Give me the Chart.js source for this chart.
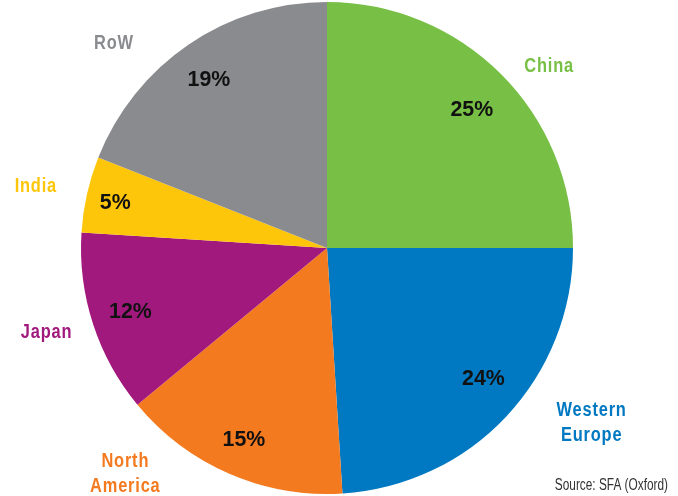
<!DOCTYPE html>
<html>
<head>
<meta charset="utf-8">
<script src="https://cdn.jsdelivr.net/npm/chart.js@4"></script>
<style>
  html, body { margin: 0; padding: 0; background: #fff; }
  #wrap { position: relative; width: 678px; height: 496px; }
</style>
</head>
<body>
<div id="wrap"><canvas id="pieChart" width="678" height="496"></canvas></div>
<script>
// Data
const regions = ['China', 'Western Europe', 'North America', 'Japan', 'India', 'RoW'];
const shares = [25, 24, 15, 12, 5, 19];
const sliceColors = ['#77bf45', '#0079c2', '#f47a20', '#a2197e', '#fec60b', '#8a8b8e'];
const labelLines = [['China'], ['Western', 'Europe'], ['North', 'America'], ['Japan'], ['India'], ['RoW']];

// label placement: [angle shift in degrees, distance as share of radius]
const outerPlace = [[5.8, 1.165], [-9.7, 1.29], [18.4, 1.23], [1.3, 1.19], [-0.6, 1.21], [-12, 1.2]];
const innerPlace = [[1.4, 0.813], [-3.2, 0.83], [0, 0.85], [0, 0.84], [-0.6, 0.88], [-0.9, 0.835]];

// draw text squeezed horizontally to look like a condensed face
function narrowText(ctx, text, x, y, squeeze) {
    ctx.save();
    ctx.translate(x, y);
    ctx.scale(squeeze, 1);
    ctx.fillText(text, 0, 0);
    ctx.restore();
}

const labelPlugin = {
    id: 'sliceLabels',
    afterDraw(chart) {
        const ctx = chart.ctx;
        const meta = chart.getDatasetMeta(0);
        ctx.save();
        ctx.textAlign = 'center';
        ctx.textBaseline = 'middle';
        meta.data.forEach((arc, i) => {
            const p = arc.getProps(['x', 'y', 'startAngle', 'endAngle', 'outerRadius'], true);
            const mid = (p.startAngle + p.endAngle) / 2;

            // percentage inside the slice
            const ai = mid + innerPlace[i][0] * Math.PI / 180;
            const ri = p.outerRadius * innerPlace[i][1];
            ctx.font = 'bold 22px "Liberation Sans", Arial, sans-serif';
            ctx.fillStyle = '#111';
            ctx.letterSpacing = '0px';
            narrowText(ctx, shares[i] + '%', p.x + Math.cos(ai) * ri, p.y + Math.sin(ai) * ri, 0.97);

            // region name outside
            const a = mid + outerPlace[i][0] * Math.PI / 180;
            const ro = p.outerRadius * outerPlace[i][1];
            const cx = p.x + Math.cos(a) * ro;
            const cy = p.y + Math.sin(a) * ro;
            const lines = labelLines[i];
            ctx.font = 'bold 20px "Liberation Sans", Arial, sans-serif';
            ctx.letterSpacing = '1px';
            ctx.fillStyle = sliceColors[i];
            lines.forEach((t, k) => {
                narrowText(ctx, t, cx, cy + (k - (lines.length - 1) / 2) * 25, 0.82);
            });
        });

        // source note
        ctx.letterSpacing = '0px';
        ctx.textAlign = 'right';
        ctx.font = '16px "Liberation Sans", Arial, sans-serif';
        ctx.fillStyle = '#333';
        narrowText(ctx, 'Source: SFA (Oxford)', 668, 486, 0.74);
        ctx.restore();
    }
};

new Chart(document.getElementById('pieChart'), {
    type: 'pie',
    data: {
        labels: regions,
        datasets: [{
            data: shares,
            backgroundColor: sliceColors,
            borderWidth: 0
        }]
    },
    options: {
        responsive: false,
        animation: false,
        layout: { padding: { left: 0, right: 24, top: 2, bottom: 2 } },
        plugins: {
            legend: { display: false },
            tooltip: { enabled: false }
        }
    },
    plugins: [labelPlugin]
});
</script>
</body>
</html>
